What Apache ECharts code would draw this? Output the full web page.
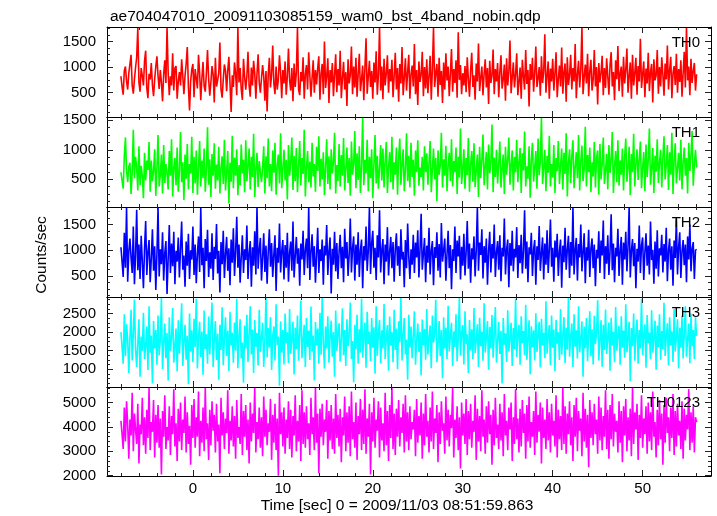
<!DOCTYPE html>
<html><head><meta charset="utf-8">
<script src="https://cdn.jsdelivr.net/npm/echarts@6/dist/echarts.min.js"></script>
<style>html,body{margin:0;padding:0;background:#fff}#c{width:717px;height:516px}</style>
</head><body><div id="c"></div>
<script>
const plotTitle = 'ae704047010_20091103085159_wam0_bst_4band_nobin.qdp';
const xTitle = 'Time [sec] 0 = 2009/11/03 08:51:59.863';
const yTitle = 'Counts/sec';
const bandNames = ['TH0', 'TH1', 'TH2', 'TH3', 'TH0123'];
const bandColors = ['#ff0000', '#00ff00', '#0000ff', '#00ffff', '#ff00ff'];
const tStart = -8, tStep = 0.125;

const th0 = [
820,610,460,930,1010,720,560,880,910,1240,640,480,760,990,1190,1760,
700,520,980,830,640,1120,1320,590,390,870,760,1080,640,430,760,1010,
1210,820,570,940,700,330,860,1130,690,1780,900,450,820,640,1270,540,
980,1020,380,720,900,640,1150,830,470,830,1060,1390,620,150,720,950,
1060,410,960,780,580,1240,880,350,780,1100,620,520,890,1330,760,440,
700,1020,860,310,1180,620,740,880,1480,560,400,760,1050,930,530,930,
1200,680,120,840,610,1090,870,450,1780,700,980,560,360,1160,810,560,
820,1300,640,420,990,640,1120,880,380,870,1250,700,500,780,1040,820,
340,920,130,860,1180,600,850,1420,680,470,1010,560,760,1230,900,390,
940,680,1110,460,820,1360,740,540,980,330,1070,610,880,1770,560,450,
900,720,1190,380,860,1040,560,1290,840,420,790,1130,500,940,660,980,
1210,360,880,1060,470,1500,590,820,1170,300,940,700,1080,430,850,1250,
510,960,640,1320,390,780,1100,560,900,240,1150,680,840,1400,470,1010,
600,1180,420,870,1260,530,760,1030,350,990,1560,480,820,1120,610,920,
380,1090,700,1310,460,850,1780,540,1010,370,1160,640,880,1230,500,960,
720,1140,410,830,1280,560,980,320,1060,680,1390,450,790,1170,540,900,
1240,380,860,1030,620,1450,470,940,260,1110,710,850,1300,430,1000,580,
1150,490,820,1220,360,970,1770,610,880,1060,420,1180,650,920,300,1090,
560,1270,740,1010,430,880,1350,520,960,690,1130,400,1680,750,1040,470,
880,640,1020,510,1190,760,420,930,1280,610,840,360,1070,720,1460,530,
790,1010,450,870,1150,600,980,280,1120,690,830,1340,470,960,720,1080,
410,900,1230,580,760,1050,340,1170,640,920,1520,490,800,1090,600,860,
1270,450,710,990,380,1140,820,560,1330,670,940,230,1060,750,1180,520,
870,1400,610,780,1000,440,1210,690,910,1640,500,830,1110,380,970,720,
1160,540,880,1290,410,760,1030,620,1380,480,900,1070,320,1190,650,840,
1240,560,980,720,1450,390,860,1120,600,950,1780,470,810,1050,680,1260,
430,920,1140,540,760,1330,620,1000,270,1080,700,890,1220,450,980,590,
1170,820,460,1040,1290,620,900,350,1130,760,1410,530,870,1010,420,1200,
680,950,1360,500,820,1090,380,1240,640,880,1180,460,1020,720,1550,590,
860,1110,410,970,680,1280,530,900,1060,310,1150,740,830,1330,480,1000,
620,1190,850,440,1070,760,1420,560,930,1200,390,880,1020,650,1260,500,
960,710,1130,420,880,1300,600,1780,740,1010,450,1160,690,920,1080,540,
860];
const th1 = [
620,480,340,890,1210,650,450,720,780,250,610,1340,520,880,700,310,
1060,400,730,560,180,950,480,820,660,1130,290,820,470,640,1010,220,
690,1250,380,570,920,260,1080,440,760,600,330,980,560,1180,210,700,
860,400,1040,290,640,1300,450,790,150,920,510,1100,330,760,600,1220,
270,880,430,990,240,700,1150,380,820,520,1020,290,660,1380,410,840,
200,930,560,1110,340,750,480,1050,260,690,890,420,1170,310,620,980,
90,780,460,1240,350,870,560,1010,230,740,400,1090,600,830,280,1160,
470,720,1020,330,880,540,1270,200,660,950,370,810,620,450,700,1060,
260,890,520,1190,380,760,300,990,610,1120,240,730,920,430,1280,350,
670,1000,480,830,160,1080,560,780,1210,320,900,470,1030,280,720,1150,
400,860,590,1340,210,690,980,450,800,360,1120,550,760,290,1050,640,
1230,380,850,500,960,230,710,1180,420,890,330,1010,600,800,1290,260,
740,470,1100,380,910,560,1200,310,680,1040,440,860,220,1140,580,770,
1320,350,940,490,1060,270,720,1550,400,830,600,1170,300,880,520,1010,
180,760,1250,430,900,340,690,1080,480,1020,360,820,1130,270,700,960,
450,1220,330,790,580,1040,240,870,1190,410,750,1010,300,660,1280,470,
900,360,1120,540,830,220,990,620,1160,390,700,540,880,310,1060,620,
940,410,770,1150,280,680,1020,500,860,130,990,580,730,1290,360,840,
560,1070,300,720,950,470,1180,380,810,620,1040,250,880,530,1360,420,
690,1010,340,860,570,1200,290,750,980,460,1110,370,640,920,200,1050,
520,830,1260,400,710,960,330,1090,600,790,1430,280,870,540,1000,430,
760,1140,360,680,920,250,1050,580,830,1210,410,740,990,310,880,620,
1170,450,800,1030,270,940,650,1310,380,720,510,1060,190,840,1120,460,
700,980,340,1190,570,810,1550,420,690,1000,300,900,610,1240,380,760,
530,1080,270,860,640,1150,420,730,1020,330,950,590,1280,210,780,1010,
440,890,1160,350,700,960,520,1250,310,820,1070,470,680,1390,380,910,
620,1040,280,790,550,1130,360,870,990,240,1100,500,760,1210,420,650,
930,330,1080,610,840,1300,270,720,980,450,1160,390,820,580,1020,310,
880,1190,460,700,1050,230,930,620,1270,380,760,1010,490,850,1140,350,
710,960,300,1090,540,820,1360,410,680,1030,270,900,630,1180,440,790,
1000,360,870,1230,500,740,1080,320,960,580,1290,250,820,1110,430,690,
950,480,1170,330,790,1040,560,860,260,1120,640,910,1320,390,750,1000,
700];
const th2 = [
1060,780,480,1340,660,1830,390,980,1230,850,560,1460,340,900,1790,610,
1110,440,1280,780,260,1050,1570,520,960,1200,380,840,1410,600,1080,230,
920,1830,490,1020,730,1350,410,950,1180,150,840,1490,560,1130,690,1360,
340,990,780,1250,470,1040,1560,620,900,290,1170,700,1320,440,1000,820,
1460,520,1110,360,930,1270,580,1820,710,1050,260,1220,790,1400,480,960,
640,1330,420,1070,830,1510,550,990,180,1160,730,1380,460,920,1260,600,
1040,320,1210,760,1430,500,970,1650,660,1110,370,880,1290,560,1020,810,
1480,440,940,1180,290,1060,700,1370,530,1840,640,1000,1240,410,860,1330,
580,1090,350,970,1410,680,1140,480,920,1290,210,1050,760,1520,570,980,
1200,430,1100,660,1340,390,950,1170,600,1560,470,890,1260,740,1040,310,
1130,820,1380,520,1010,1230,650,1840,420,960,1310,680,1080,370,920,1440,
560,1020,790,1210,330,1090,900,1490,520,980,1250,160,1030,720,1360,590,
1140,440,970,1300,650,1070,380,1420,840,1160,500,930,1620,570,1040,1270,
410,1110,720,1350,480,1000,1210,260,1080,800,1460,600,990,1840,540,1140,
1380,660,1050,420,1290,860,1780,570,1000,1220,340,1110,780,1450,510,970,
1260,650,1160,390,1030,1330,700,1080,500,1410,820,970,280,1200,650,1520,
880,440,1020,720,1300,560,1150,860,1390,470,1010,1710,620,930,1240,380,
1090,760,1440,530,990,1180,320,1060,850,1350,600,1120,470,1530,780,1000,
1230,410,920,1380,650,1100,240,1020,790,1460,560,1190,880,1280,430,1070,
700,1320,510,960,1570,640,1130,370,1040,820,1270,490,1000,1840,600,1150,
910,1410,450,1080,760,1230,330,990,1360,570,1120,840,1500,480,960,1180,
620,1290,400,1050,880,1620,530,1010,1210,280,1140,700,1380,590,1030,860,
1450,460,1100,750,1300,550,990,1780,640,1170,380,1060,920,1340,500,1010,
1200,330,1080,810,1470,600,940,1250,430,1130,720,1390,560,1020,1600,680,
1050,390,1190,860,1320,500,980,1210,270,1090,770,1440,620,1010,1280,460,
1160,700,1840,530,1000,1240,410,1120,860,1500,590,970,1330,360,1060,800,
1400,480,1040,1230,650,1110,300,1010,840,1370,560,1190,900,1580,440,1080,
740,1290,520,980,1700,610,1130,380,1050,880,1420,500,1000,1260,330,1150,
820,1360,590,1070,1840,470,990,1220,690,1140,260,1030,780,1480,560,1100,
1250,420,960,1330,700,1090,530,1560,810,1010,350,1170,640,1390,490,1040,
900,1300,570,1120,780,1440,400,1000,1230,620,1080,310,1190,850,1620,530,
1060,1350,460,980,1200,710,1110,380,1270,820,1500,590,1030,1160,440,1000,
1020];
const th3 = [
2000,1600,1150,2480,1350,2210,1800,900,1820,2600,1240,1950,2880,1560,1060,1700,
2350,800,1880,1500,2520,1280,1630,2150,980,2700,1450,1900,620,2300,1560,2060,
1120,2450,1380,1790,2940,1010,1700,2230,1300,1980,700,2400,1500,1850,2650,1180,
1620,2100,940,2320,1420,2000,2780,1090,1750,2200,1260,1900,600,2500,1480,2050,
1190,2360,1600,2900,1020,1860,2280,1330,2020,850,2580,1550,1940,1150,2420,1400,
2130,2800,1060,1780,2300,1250,1960,720,2200,1520,2670,1110,1830,2400,1360,2040,
950,2550,1640,1990,1180,2260,1500,2900,1030,1880,2350,1290,1720,640,2180,1560,
2470,1200,1950,2700,1400,2070,900,2330,1610,1980,1100,2600,1470,1840,2250,1060,
1770,2940,1320,2110,1580,2410,980,1900,2150,1240,2750,1660,1880,560,2290,1450,
2060,1130,2500,1700,2000,1170,2620,1420,1830,2280,860,2120,1550,2450,1230,1960,
2850,1300,1780,2200,1060,2380,1600,2040,1250,2690,1480,1900,700,2270,1650,2100,
1150,2520,1390,2940,1720,1020,2150,1560,2430,1180,1870,2310,1340,2000,800,2580,
1500,1960,2240,1210,1830,2640,1380,2060,1090,2350,1620,1940,2800,1270,1760,650,
2200,1540,2470,1150,2080,1450,2900,1310,1900,2260,1040,2550,1680,2010,1220,2380,
1590,2130,880,2700,1360,1980,2330,1160,2050,1560,2760,1280,1850,2190,960,2420,
1640,2000,1190,2600,1520,2100,1000,2290,1730,2940,1240,1920,2380,1400,1800,720,
2470,1590,2150,1300,1900,2560,1120,1780,2230,1470,2010,830,2340,1650,2090,1260,
2620,1400,1850,2180,1030,2450,1720,1960,2870,1190,1640,2300,1350,2060,760,2400,
1560,2120,1280,2710,1480,1900,2250,1080,2020,1600,2480,1220,1830,2940,1370,1990,
2190,1130,2560,1680,1940,900,2330,1510,2080,1270,2650,1440,1790,2210,1060,2390,
1620,2010,1230,2780,1450,1880,2300,990,2140,1570,2460,1310,1920,2680,1180,1760,
2270,1410,2040,620,2380,1660,1970,1200,2590,1480,1840,2250,1090,2110,1550,2900,
1330,1950,2200,1120,2430,1700,2030,1380,2740,1260,1810,2320,870,2160,1600,2050,
1240,2510,1470,1900,2280,1050,2360,1650,1980,1300,2830,1420,1870,2190,1110,2450,
1580,2070,940,2330,1690,2000,1250,2620,1390,1930,2410,1170,2120,1530,2940,1340,
1890,2230,1060,2480,1610,2050,1290,2700,1460,1820,2290,800,2150,1570,2380,1220,
1960,2560,1350,2080,1130,2440,1680,1990,2860,1240,1780,2320,1070,2200,1520,2610,
1410,1870,2260,960,2390,1640,2010,1190,2680,1500,1900,2170,1120,2430,1580,2040,
1310,2750,1460,1850,2280,680,2110,1620,2500,1230,1950,2340,1150,2060,1560,2900,
1380,1920,2210,1040,2460,1700,1990,1270,2590,1450,1830,2310,990,2180,1600,2480,
1260,2030,1540,2790,1360,1880,2240,1100,2400,1650,2020,1200,2620,1480,1860,2350,
1020,2120,1590,2450,1290,1940,2700,1340,1810,2230,1160,2500,1620,2060,1280,2400,
1900];
const th0123 = [
4250,3700,3100,4800,3400,5050,4100,2700,4300,3650,5400,3000,4550,3900,3300,4950,
2500,4100,3700,5200,3250,4400,2900,4700,3550,5600,3050,4200,3800,5100,2750,4500,
3350,4900,3150,4350,2050,4650,3600,5300,3100,4000,3450,4850,2850,4450,3700,5550,
3200,4150,2600,4750,3400,5000,3050,4300,3750,5250,2950,4600,3300,4050,2450,4900,
3550,5150,3150,4400,3600,5450,2800,4250,3350,4800,3000,5600,3500,4150,2650,4700,
3250,5050,3850,4500,2950,4950,3400,4100,2100,5200,3650,4600,3100,4350,3750,5500,
2900,4250,3450,4850,3200,4450,2700,5100,3550,4000,3300,5350,2850,4650,3600,4900,
3050,4300,2500,5000,3400,4550,3750,5620,2950,4200,3500,4800,3150,4400,2800,5250,
3600,4700,3250,4150,3800,5150,2650,4500,3350,4950,3050,4350,2000,5400,3700,4600,
3200,4800,2900,4300,3550,5050,3100,4700,2750,4450,3650,5300,3000,4250,3400,4900,
2600,5500,3300,4600,3150,4850,3500,4150,2850,5200,3700,4400,3050,5600,3350,4550,
2100,4750,3600,4950,3250,4300,3800,5100,2700,4650,3450,4900,3100,4350,2900,5350,
3550,4500,3200,4750,2550,4400,3650,5250,3000,4600,3350,4850,2800,5450,3500,4200,
3150,5000,2650,4450,3700,5150,3050,4700,3300,5550,2900,4350,3600,4950,2050,4600,
3400,5200,3150,4300,3850,5050,2750,4800,3450,4150,3000,5400,3250,4650,2600,4900,
3550,5620,3100,4550,2850,4750,3600,5100,3200,4400,3750,4950,2950,5300,3400,4600,
3050,4850,3500,4200,3900,4700,2800,5150,3350,4450,3650,5000,2700,4550,3250,5350,
3600,4250,2950,4800,3400,5450,3100,4350,3750,4900,2550,4600,3300,5050,3850,4150,
2900,5250,3450,4700,3200,4500,3950,5600,2750,4300,3550,4850,3050,4400,2300,5000,
3650,4550,3300,5150,2850,4650,3500,4950,3150,4250,3800,5300,2650,4750,3400,4450,
3000,5500,3600,4300,2900,4850,3350,5050,3700,4500,2450,4700,3250,5200,3550,4100,
3100,4950,3450,4600,2800,5350,3650,4250,3050,4800,3900,5000,2600,4400,3300,5550,
3500,4350,2950,4750,3200,5100,3750,4550,2700,4900,3400,5250,3150,4200,3600,4650,
2850,5450,3350,4500,3800,5000,2500,4800,3550,4300,3100,5150,3450,4600,2950,4950,
3650,4250,3200,5300,2750,4700,3500,4450,3050,5600,3300,4850,2900,4550,3700,5050,
3250,4400,2600,4900,3600,5200,3000,4650,3850,4350,2800,5400,3400,4750,3150,4500,
2350,5100,3550,4600,3250,4950,3700,4300,2900,5250,3450,4800,3050,4450,3600,5500,
3100,4700,2700,4900,3500,5350,3200,4550,3800,4250,2950,5050,3350,4650,2550,4850,
3650,5150,3000,4400,3450,4750,2800,5620,3300,4600,3900,4950,2650,4500,3550,5300,
3150,4350,3700,4850,2900,5000,3400,4600,3050,5450,3600,4200,2750,4700,3250,5100,
3500,4550,2450,4900,3350,5200,3750,4400,3000,4800,3550,5350,2850,4650,3200,4950,
3650,4250,3100,5050,2700,4750,3450,4500,3900,5550,3050,4600,3350,4850,2950,4400,
4200];
const bandData = [th0, th1, th2, th3, th0123];

const xRange = [-9.55, 57.6];
const xMajor = [0, 10, 20, 30, 40, 50];
const xMinor = [-8,-6,-4,-2,2,4,6,8,12,14,16,18,22,24,26,28,32,34,36,38,42,44,46,48,52,54,56];
const yRanges = [[24, 1782], [31, 1556], [91, 1842], [523, 2947], [1988, 5638]];
const yMajor = [
  [500, 1000, 1500],
  [500, 1000, 1500],
  [500, 1000, 1500],
  [1000, 1500, 2000, 2500],
  [2000, 3000, 4000, 5000]
];
const yMinor = [
  [125,250,375,625,750,875,1125,1250,1375,1625,1750],
  [125,250,375,625,750,875,1125,1250,1375],
  [125,250,375,625,750,875,1125,1250,1375,1625,1750],
  [625,750,875,1125,1250,1375,1625,1750,1875,2125,2250,2375,2625,2750,2875],
  [2200,2400,2600,2800,3200,3400,3600,3800,4200,4400,4600,4800,5200,5400,5600]
];

const panelTops = [27, 117, 207, 297, 387];
const panelHeights = [90, 90, 90, 90, 89];
const FONT = '"Liberation Sans", Arial, Helvetica, sans-serif';
const tickColor = '#222';

const grids = [], xAxes = [], yAxes = [], series = [], titles = [];

function tickAxis(kind, g, pos, range, vals, len, showLine, labelVals) {
  const ax = {
    type: 'value', gridIndex: g, position: pos, min: range[0], max: range[1],
    axisLine: { show: showLine, onZero: false, lineStyle: { color: '#000', width: 1 } },
    axisTick: { show: true, inside: true, length: len, customValues: vals, lineStyle: { color: tickColor, width: 1 } },
    splitLine: { show: false },
    minorTick: { show: false },
    axisLabel: { show: false },
    z: 10
  };
  if (labelVals) {
    ax.axisLabel = {
      show: true, customValues: labelVals, color: '#000', fontSize: 15, fontFamily: FONT,
      margin: kind === 'x' ? 5 : 11,
      formatter: function (v) { return String(Math.round(v)); }
    };
  }
  return ax;
}

bandNames.forEach((name, g) => {
  grids.push({ left: 107, right: 6, top: panelTops[g], height: panelHeights[g] });
  const xi = xAxes.length;
  xAxes.push(tickAxis('x', g, 'bottom', xRange, xMajor, 6, true, g === bandNames.length - 1 ? xMajor : null));
  xAxes.push(tickAxis('x', g, 'bottom', xRange, xMinor, 3, false, null));
  xAxes.push(tickAxis('x', g, 'top', xRange, xMajor, 6, true, null));
  xAxes.push(tickAxis('x', g, 'top', xRange, xMinor, 3, false, null));
  const yi = yAxes.length;
  yAxes.push(tickAxis('y', g, 'left', yRanges[g], yMajor[g], 6, true, yMajor[g]));
  yAxes.push(tickAxis('y', g, 'left', yRanges[g], yMinor[g], 3, false, null));
  yAxes.push(tickAxis('y', g, 'right', yRanges[g], yMajor[g], 6, true, null));
  yAxes.push(tickAxis('y', g, 'right', yRanges[g], yMinor[g], 3, false, null));

  const vals = bandData[g];
  series.push({
    name: name, type: 'line', xAxisIndex: xi, yAxisIndex: yi,
    data: vals.map((v, i) => [tStart + i * tStep, v]),
    showSymbol: false, symbol: 'none', sampling: null,
    lineStyle: { color: bandColors[g], width: 1.6, join: 'miter', miterLimit: 2 },
    itemStyle: { color: bandColors[g] },
    silent: true, z: 1
  });
  titles.push({
    text: name, right: 12, top: panelTops[g] + 3,
    textStyle: { fontSize: 15, fontWeight: 'normal', color: '#000', fontFamily: FONT }
  });
});

titles.push({
  text: plotTitle, left: 105, top: 4,
  textStyle: { fontSize: 15.5, fontWeight: 'normal', color: '#000', fontFamily: FONT }
});

const chart = echarts.init(document.getElementById('c'), null, { renderer: 'canvas' });
chart.setOption({
  animation: false,
  backgroundColor: '#fff',
  title: titles,
  grid: grids,
  xAxis: xAxes,
  yAxis: yAxes,
  series: series,
  graphic: [
    { type: 'text', x: 42, y: 255, rotation: Math.PI / 2,
      style: { text: yTitle, fontSize: 15.5, fontFamily: FONT, fill: '#000', textAlign: 'center', textVerticalAlign: 'middle' } },
    { type: 'text', x: 397, y: 506,
      style: { text: xTitle, fontSize: 15.5, fontFamily: FONT, fill: '#000', textAlign: 'center', textVerticalAlign: 'middle' } }
  ]
});
</script>
</body></html>
